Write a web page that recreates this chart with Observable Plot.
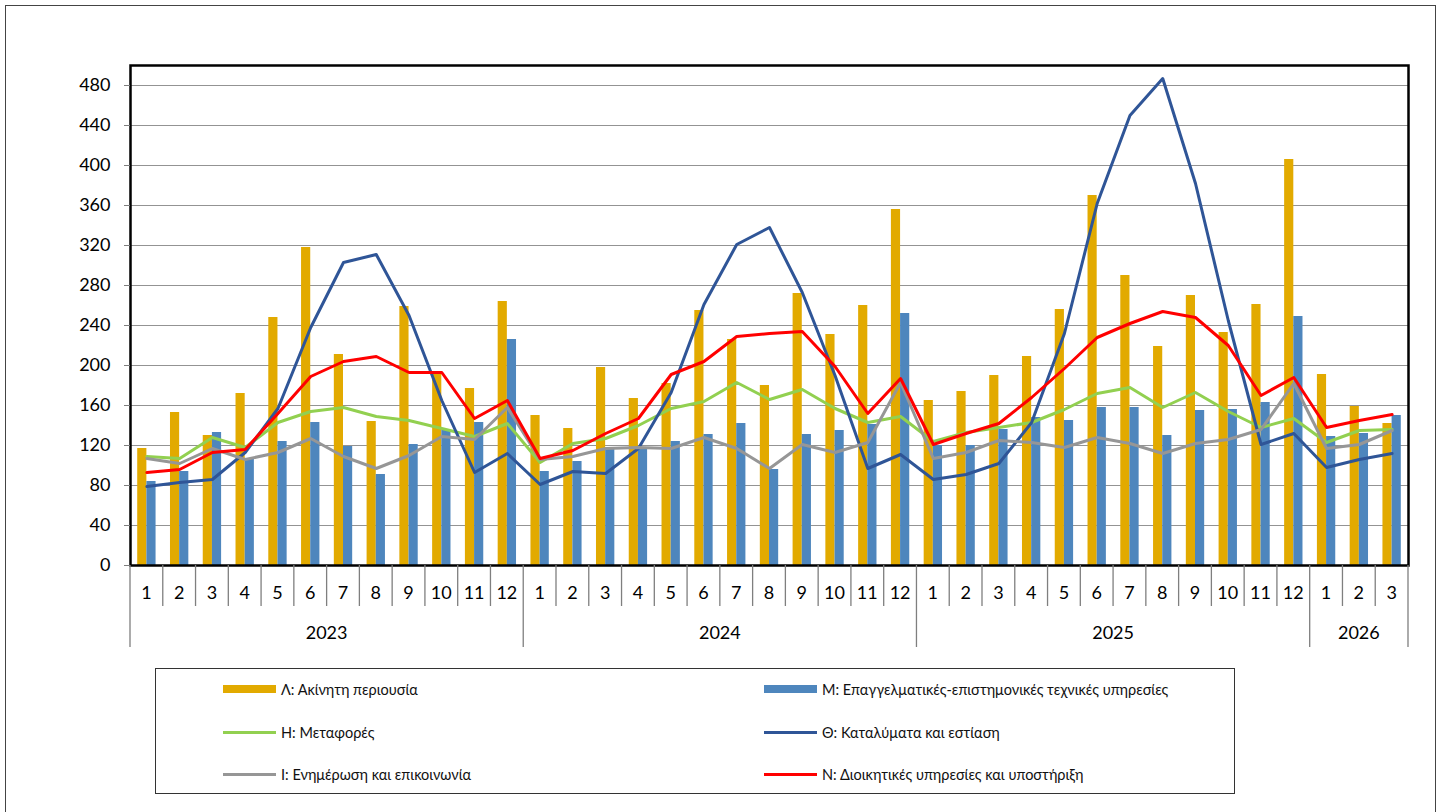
<!DOCTYPE html>
<html>
<head>
<meta charset="utf-8">
<script src="https://cdn.jsdelivr.net/npm/d3@7"></script>
<script src="https://cdn.jsdelivr.net/npm/@observablehq/plot@0.6"></script>
<style>
  body { margin: 0; background: #fff; font-family: Lato, "Open Sans", sans-serif; }
  #wrap { position: relative; width: 1443px; height: 812px; overflow: hidden; background: #fff; }
  #outer { position: absolute; left: 5px; top: 5px; width: 1431px; height: 830px; border: 1.5px solid #444; box-sizing: border-box; }
  #chart { position: absolute; left: 0; top: 0; }
  #legend { position: absolute; left: 155px; top: 668px; width: 1080px; height: 126px; border: 1px solid #333; box-sizing: border-box; background: #fff; }
  .item { position: absolute; font-size: 14.5px; color: #111; display: flex; align-items: center; height: 20px; white-space: nowrap; }
  .sw { display: inline-block; width: 53px; margin-right: 5px; }
</style>
</head>
<body>
<div id="wrap">
  <div id="outer"></div>
  <div id="chart"></div>
  <div id="legend"></div>
</div>
<script>
// ---- Data ----
const yearLabels = ["2023", "2024", "2025", "2026"];
const monthsPerYear = [12, 12, 12, 3];

// Λ: Ακίνητη περιουσία (bars)
const seriesL = [117,153,130,172,248,318,211,144,259,194,177,264,
                 150,137,198,167,182,255,226,180,272,231,260,356,
                 165,174,190,209,256,370,290,219,270,233,261,406,
                 191,159,142];
// Μ: Επαγγελματικές-επιστημονικές τεχνικές υπηρεσίες (bars)
const seriesM = [84,94,133,107,124,143,119,91,121,135,143,226,
                 94,104,118,118,124,131,142,96,131,135,141,252,
                 120,120,136,148,145,158,158,130,155,156,163,249,
                 129,132,150];
// Η: Μεταφορές
const seriesH = [109,107,128,118,143,154,158,149,145,137,129,142,
                 103,122,127,140,157,164,183,166,176,157,143,149,
                 124,133,138,143,156,172,178,158,173,154,138,147,
                 123,135,136];
// Θ: Καταλύματα και εστίαση
const seriesTh = [79,83,86,113,157,238,303,311,250,165,93,112,
                  81,94,92,117,173,261,321,338,273,190,97,111,
                  86,91,102,143,232,362,450,487,382,245,121,132,
                  98,106,112];
// Ι: Ενημέρωση και επικοινωνία
const seriesI = [107,102,117,106,113,127,109,97,110,129,126,158,
                 106,109,117,118,117,128,117,97,121,113,123,183,
                 107,113,125,123,118,128,122,112,122,126,136,182,
                 117,121,135];
// Ν: Διοικητικές υπηρεσίες και υποστήριξη
const seriesN = [93,96,113,116,152,189,204,209,193,193,147,165,
                 107,115,132,147,191,204,229,232,234,199,152,187,
                 121,132,142,168,197,228,242,254,248,220,170,188,
                 138,145,151];

const yTicks = [0,40,80,120,160,200,240,280,320,360,400,440,480];

const legendItems = [
  {label: "Λ: Ακίνητη περιουσία", color: "#E2AA00", kind: "bar"},
  {label: "Μ: Επαγγελματικές-επιστημονικές τεχνικές υπηρεσίες", color: "#4E86BD", kind: "bar"},
  {label: "Η: Μεταφορές", color: "#92D050", kind: "line"},
  {label: "Θ: Καταλύματα και εστίαση", color: "#2F5597", kind: "line"},
  {label: "Ι: Ενημέρωση και επικοινωνία", color: "#969696", kind: "line"},
  {label: "Ν: Διοικητικές υπηρεσίες και υποστήριξη", color: "#FF0000", kind: "line"}
];

// ---- Build table ----
const rows = [];
yearLabels.forEach((yr, yi) => {
  for (let m = 1; m <= monthsPerYear[yi]; m++) {
    const i = rows.length;
    rows.push({key: `${yr}-${m}`, year: yr, month: m,
      L: seriesL[i], M: seriesM[i], H: seriesH[i], Th: seriesTh[i], I: seriesI[i], N: seriesN[i]});
  }
});
const keys = rows.map(d => d.key);

const W = 1443, H = 660, ML = 130, MR = 35, MT = 65, MB = 95;
const bw = (W - ML - MR) / keys.length;
const font = "Lato, 'Open Sans', sans-serif";

const chart = Plot.plot({
  width: W, height: H,
  marginLeft: ML, marginRight: MR, marginTop: MT, marginBottom: MB,
  style: {fontFamily: font, fontSize: "18px", color: "#000", background: "transparent"},
  x: {type: "band", domain: keys, padding: 0, round: false, axis: null},
  y: {domain: [0, 500], axis: null},
  marks: [
    Plot.gridY(yTicks, {stroke: "#939393", strokeOpacity: 1, strokeWidth: 1}),
    Plot.barY(rows, {x: "key", y: "L", fill: legendItems[0].color, insetLeft: bw*0.22, insetRight: bw*0.50}),
    Plot.barY(rows, {x: "key", y: "M", fill: legendItems[1].color, insetLeft: bw*0.50, insetRight: bw*0.22}),
    Plot.lineY(rows, {x: "key", y: "H", stroke: legendItems[2].color, strokeWidth: 3}),
    Plot.lineY(rows, {x: "key", y: "Th", stroke: legendItems[3].color, strokeWidth: 3}),
    Plot.lineY(rows, {x: "key", y: "I", stroke: legendItems[4].color, strokeWidth: 3}),
    Plot.lineY(rows, {x: "key", y: "N", stroke: legendItems[5].color, strokeWidth: 3}),
    Plot.frame({stroke: "#000", strokeWidth: 2.5}),
    Plot.axisY(yTicks, {tickSize: 6, tickPadding: 14, stroke: "#7f7f7f", fontSize: 18, fill: "#000", label: null})
  ]
});
document.getElementById("chart").appendChild(chart);

// ---- Two-level category axis using the plot's own x scale ----
const xs = chart.scale("x");
const svg = d3.select(chart);
const g = svg.append("g").attr("font-family", font).attr("font-size", 18).attr("fill", "#000");
const y0 = H - MB; // axis baseline
const yearStarts = new Set();
let acc = 0;
monthsPerYear.forEach(n => { yearStarts.add(acc); acc += n; });
yearStarts.add(keys.length);
for (let i = 0; i <= keys.length; i++) {
  const xp = i < keys.length ? xs.apply(keys[i]) : xs.apply(keys[keys.length - 1]) + xs.bandwidth;
  g.append("line").attr("x1", xp).attr("x2", xp).attr("y1", y0)
    .attr("y2", yearStarts.has(i) ? y0 + 82 : y0 + 41)
    .attr("stroke", "#7f7f7f").attr("stroke-width", 1.3);
}
rows.forEach(d => {
  g.append("text").attr("x", xs.apply(d.key) + xs.bandwidth / 2).attr("y", y0 + 28)
    .attr("dy", "0.35em").attr("text-anchor", "middle").text(d.month);
});
acc = 0;
yearLabels.forEach((yr, yi) => {
  const a = xs.apply(keys[acc]);
  const b = xs.apply(keys[acc + monthsPerYear[yi] - 1]) + xs.bandwidth;
  g.append("text").attr("x", (a + b) / 2).attr("y", y0 + 68)
    .attr("dy", "0.35em").attr("text-anchor", "middle").text(yr);
  acc += monthsPerYear[yi];
});

// ---- Legend ----
const leg = document.getElementById("legend");
const colX = [67, 608], rowY = [10, 53, 95];
legendItems.forEach((it, i) => {
  const div = document.createElement("div");
  div.className = "item";
  div.style.left = colX[i % 2] + "px";
  div.style.top = rowY[Math.floor(i / 2)] + "px";
  const sw = document.createElement("span");
  sw.className = "sw";
  sw.style.background = it.color;
  sw.style.height = it.kind === "bar" ? "8px" : "3px";
  div.appendChild(sw);
  const t = document.createElement("span");
  t.textContent = it.label;
  div.appendChild(t);
  leg.appendChild(div);
});
</script>
</body>
</html>
